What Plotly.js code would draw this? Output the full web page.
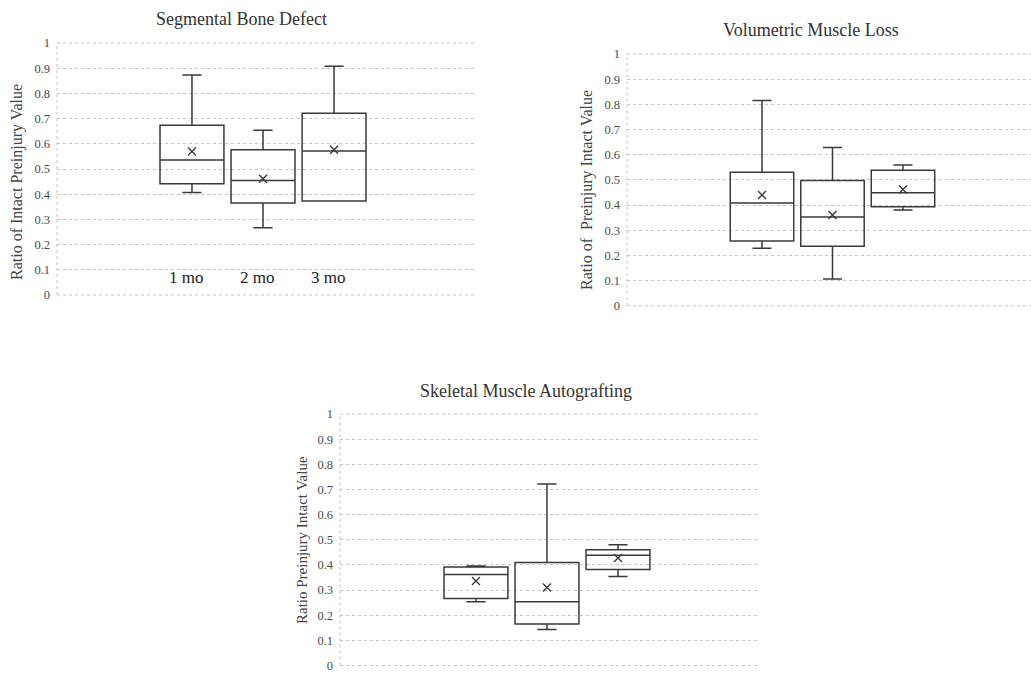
<!DOCTYPE html>
<html>
<head>
<meta charset="utf-8">
<script src="https://cdn.plot.ly/plotly-3.0.1.min.js"></script>
<style>html,body{margin:0;padding:0;background:#fff;}#chart{width:1031px;height:673px;}</style>
</head>
<body>
<div id="chart"></div>
<script>
// Categories
const categories = ['1 mo', '2 mo', '3 mo'];
const yTicks = [0, 0.1, 0.2, 0.3, 0.4, 0.5, 0.6, 0.7, 0.8, 0.9, 1];

// Segmental Bone Defect
const sbdLo   = [0.407, 0.267, 0.373];
const sbdQ1   = [0.441, 0.365, 0.373];
const sbdMed  = [0.536, 0.454, 0.571];
const sbdQ3   = [0.674, 0.576, 0.721];
const sbdHi   = [0.873, 0.654, 0.908];
const sbdMean = [0.569, 0.461, 0.576];

// Volumetric Muscle Loss
const vmlLo   = [0.228, 0.106, 0.380];
const vmlQ1   = [0.257, 0.236, 0.393];
const vmlMed  = [0.408, 0.352, 0.449];
const vmlQ3   = [0.530, 0.497, 0.538];
const vmlHi   = [0.815, 0.629, 0.559];
const vmlMean = [0.440, 0.360, 0.462];

// Skeletal Muscle Autografting
const smaLo   = [0.253, 0.143, 0.354];
const smaQ1   = [0.266, 0.165, 0.382];
const smaMed  = [0.362, 0.253, 0.438];
const smaQ3   = [0.392, 0.410, 0.460];
const smaHi   = [0.396, 0.722, 0.480];
const smaMean = [0.336, 0.310, 0.427];

const panelTitles = ['Segmental Bone Defect', 'Volumetric Muscle Loss', 'Skeletal Muscle Autografting'];
const yTitles = ['Ratio of Intact Preinjury Value', 'Ratio of  Preinjury Intact Value', 'Ratio Preinjury Intact Value'];

const FONT = '"Liberation Serif", "Times New Roman", serif';
const LINE = '#3a3a3a';
const GRID = '#c4c4c4';

function boxTrace(lo, q1, med, q3, hi, xa, ya) {
  return {
    type: 'box', x: categories, lowerfence: lo, q1: q1, median: med, q3: q3, upperfence: hi,
    xaxis: xa, yaxis: ya, width: 0.9, whiskerwidth: 0.3,
    line: {color: LINE, width: 1.5}, fillcolor: 'rgba(255,255,255,0)',
    boxpoints: false, hoverinfo: 'skip', showlegend: false
  };
}
function meanTrace(mean, xa, ya) {
  return {
    type: 'scatter', mode: 'markers', x: categories, y: mean, xaxis: xa, yaxis: ya,
    marker: {symbol: 'x-thin-open', size: 8, color: LINE, line: {color: LINE, width: 1.4}},
    hoverinfo: 'skip', showlegend: false
  };
}

const data = [
  boxTrace(sbdLo, sbdQ1, sbdMed, sbdQ3, sbdHi, 'x', 'y'),
  meanTrace(sbdMean, 'x', 'y'),
  boxTrace(vmlLo, vmlQ1, vmlMed, vmlQ3, vmlHi, 'x2', 'y2'),
  meanTrace(vmlMean, 'x2', 'y2'),
  boxTrace(smaLo, smaQ1, smaMed, smaQ3, smaHi, 'x3', 'y3'),
  meanTrace(smaMean, 'x3', 'y3')
];

function xAxis(domain, range, anchor) {
  return {domain: domain, range: range, anchor: anchor, type: 'category',
    categoryorder: 'array', categoryarray: categories,
    showgrid: false, zeroline: false, showline: false, showticklabels: false, ticks: ''};
}
function yAxis(domain, anchor) {
  return {domain: domain, range: [0, 1], anchor: anchor, tickvals: yTicks,
    showgrid: true, gridcolor: GRID, gridwidth: 1, griddash: 'dot',
    zeroline: false, showline: false, ticks: '', ticklabelstandoff: 6,
    ticklabeloverflow: 'allow',
    tickfont: {family: FONT, size: 12.5, color: '#4a4a4a'}};
}

const W = 1031, H = 673;
const px = v => v / W, py = v => 1 - v / H;

const edgeShapes = [];
['', '2', '3'].forEach(s => {
  const xr = 'x' + s + ' domain', yr = 'y' + s + ' domain';
  edgeShapes.push({type: 'line', xref: xr, yref: yr, x0: 0, x1: 0, y0: 0, y1: 1,
    line: {color: GRID, width: 1, dash: 'dot'}});
  edgeShapes.push({type: 'line', xref: xr, yref: yr, x0: 0, x1: 1, y0: 0, y1: 0,
    line: {color: GRID, width: 1, dash: 'dot'}});
  edgeShapes.push({type: 'line', xref: xr, yref: yr, x0: 0, x1: 1, y0: 1, y1: 1,
    line: {color: GRID, width: 1, dash: 'dot'}});
});

const layout = {
  width: W, height: H,
  margin: {l: 0, r: 0, t: 0, b: 0},
  paper_bgcolor: '#fff', plot_bgcolor: '#fff',
  font: {family: FONT, color: '#333'},
  showlegend: false,
  xaxis:  xAxis([px(57), px(474)], [-1.90, 3.97], 'y'),
  yaxis:  yAxis([py(295), py(43)], 'x'),
  xaxis2: xAxis([px(627), 1], [-1.915, 3.816], 'y2'),
  yaxis2: yAxis([py(305.7), py(54)], 'x2'),
  xaxis3: xAxis([px(340), px(757)], [-1.915, 3.958], 'y3'),
  yaxis3: yAxis([py(665.5), py(414)], 'x3'),
  shapes: edgeShapes,
  annotations: [
    {text: panelTitles[0], xref: 'paper', yref: 'paper', x: px(241), y: py(19), showarrow: false,
     xanchor: 'center', yanchor: 'middle', font: {family: FONT, size: 18, color: '#333'}},
    {text: panelTitles[1], xref: 'paper', yref: 'paper', x: px(811), y: py(30), showarrow: false,
     xanchor: 'center', yanchor: 'middle', font: {family: FONT, size: 18, color: '#333'}},
    {text: panelTitles[2], xref: 'paper', yref: 'paper', x: px(526), y: py(391), showarrow: false,
     xanchor: 'center', yanchor: 'middle', font: {family: FONT, size: 18, color: '#333'}},
    {text: yTitles[0], xref: 'paper', yref: 'paper', x: px(17), y: py(182), textangle: -90, showarrow: false,
     xanchor: 'center', yanchor: 'middle', font: {family: FONT, size: 16, color: '#444'}},
    {text: yTitles[1], xref: 'paper', yref: 'paper', x: px(587), y: py(190), textangle: -90, showarrow: false,
     xanchor: 'center', yanchor: 'middle', font: {family: FONT, size: 16, color: '#444'}},
    {text: yTitles[2], xref: 'paper', yref: 'paper', x: px(302), y: py(540), textangle: -90, showarrow: false,
     xanchor: 'center', yanchor: 'middle', font: {family: FONT, size: 15, color: '#444'}}
  ].concat(categories.map(c => ({
    text: c, xref: 'x', yref: 'y', x: c, y: 0.071, xshift: -6, showarrow: false,
    xanchor: 'center', yanchor: 'middle', font: {family: FONT, size: 17, color: '#222'}
  })))
};

Plotly.newPlot('chart', data, layout, {displayModeBar: false, staticPlot: true});
</script>
</body>
</html>
